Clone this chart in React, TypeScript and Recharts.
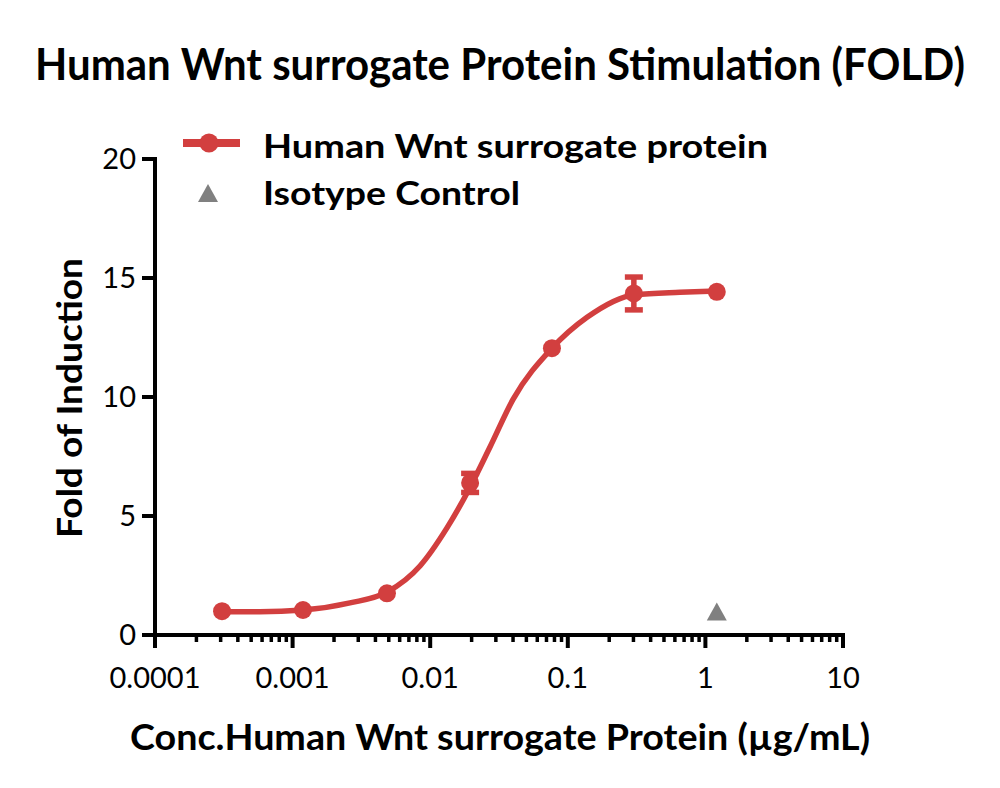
import React from 'react';
import { ComposedChart, XAxis, YAxis, Line, Scatter, ErrorBar } from 'recharts';

const RED = '#D23F3F';
const GREY = '#808080';
const FONT = 'Lato, "Open Sans", sans-serif';

// measured points (concentration µg/mL, fold of induction, error)
const conc = [0.000307, 0.00119, 0.00485, 0.0195, 0.0767, 0.302, 1.21];
const fold = [1.0, 1.05, 1.75, 6.39, 12.05, 14.35, 14.42];
const foldErr = [0, 0, 0, 0.4, 0, 0.69, 0];

// fitted curve
const curveX = [0.000307, 0.000579, 0.00119, 0.00261, 0.00485, 0.00843, 0.01324, 0.01945, 0.0272, 0.04, 0.0767, 0.138, 0.308, 0.653, 1.21];
const curveY = [0.98, 0.98, 1.05, 1.35, 1.8, 2.9, 4.5, 6.2, 7.9, 9.9, 12.05, 13.35, 14.3, 14.4, 14.45];

// isotype control
const isoX = [1.21];
const isoY = [0.95];

const yTicks = [0, 5, 10, 15, 20];
const xMajor = [0.0001, 0.001, 0.01, 0.1, 1, 10];
const xMajorLabels = ['0.0001', '0.001', '0.01', '0.1', '1', '10'];
const minorMult = [2, 3, 4, 5, 6, 7, 8, 9];

const xTicks: number[] = [];
xMajor.forEach((d, i) => {
  xTicks.push(d);
  if (i < xMajor.length - 1) minorMult.forEach((m) => xTicks.push(d * m));
});

const pointData = conc.map((x, i) => ({ x, y: fold[i], err: foldErr[i] || undefined }));
const curveData = curveX.map((x, i) => ({ x, y: curveY[i] }));
const isoData = isoX.map((x, i) => ({ x, y: isoY[i] }));

const majorIndex = (v: number) => xMajor.findIndex((m) => Math.abs(Math.log10(v) - Math.log10(m)) < 1e-6);

const XTick = (props: any) => {
  const { x, y, payload } = props;
  const idx = majorIndex(payload.value);
  const major = idx >= 0;
  return (
    <g>
      <line x1={x} x2={x} y1={y} y2={y + (major ? 13 : 7)} stroke="#000" strokeWidth={major ? 4 : 3.5} />
      {major && (
        <text x={x} y={y + 53} textAnchor="middle" fontFamily={FONT} fontSize={29} fill="#000">
          {xMajorLabels[idx]}
        </text>
      )}
    </g>
  );
};

const YTick = (props: any) => {
  const { x, y, payload } = props;
  return (
    <g>
      <line x1={x - 13} x2={x} y1={y} y2={y} stroke="#000" strokeWidth={4} />
      <text x={x - 19} y={y + 10} textAnchor="end" fontFamily={FONT} fontSize={29} fill="#000">
        {payload.value}
      </text>
    </g>
  );
};

const Dot = (props: any) => {
  const { cx, cy } = props;
  return <circle cx={cx} cy={cy} r={9} fill={RED} />;
};

const Tri = (props: any) => {
  const { cx, cy } = props;
  return <path d={`M${cx},${cy - 10} L${cx + 10},${cy + 8} L${cx - 10},${cy + 8} Z`} fill={GREY} />;
};

export default function App() {
  return (
    <div style={{ position: 'absolute', left: 0, top: 0, width: 1000, height: 788, background: '#fff' }}>
      <ComposedChart width={1000} height={788} margin={{ top: 159, right: 157, bottom: 93, left: 95 }}>
        <XAxis
          type="number"
          dataKey="x"
          scale="log"
          domain={[0.0001, 10]}
          ticks={xTicks}
          interval={0}
          allowDataOverflow
          height={60}
          tickSize={0}
          tickMargin={0}
          tickLine={false}
          tick={<XTick />}
          axisLine={{ stroke: '#000', strokeWidth: 4, strokeLinecap: 'square' }}
        />
        <YAxis
          type="number"
          dataKey="y"
          domain={[0, 20]}
          ticks={yTicks}
          interval={0}
          width={60}
          tickSize={0}
          tickMargin={0}
          tickLine={false}
          tick={<YTick />}
          axisLine={{ stroke: '#000', strokeWidth: 4, strokeLinecap: 'square' }}
        />
        <Line data={curveData} dataKey="y" type="monotone" stroke={RED} strokeWidth={5.5} dot={false} activeDot={false} isAnimationActive={false} />
        <Scatter data={pointData} dataKey="y" shape={<Dot />} isAnimationActive={false}>
          <ErrorBar dataKey="err" direction="y" width={9} strokeWidth={5.5} stroke={RED} isAnimationActive={false} />
        </Scatter>
        <Scatter data={isoData} dataKey="y" shape={<Tri />} isAnimationActive={false} />
      </ComposedChart>
      <svg width={1000} height={788} style={{ position: 'absolute', left: 0, top: 0, pointerEvents: 'none' }}>
        <text x={500} y={80} textAnchor="middle" fontFamily={FONT} fontWeight={700} fontSize={43} textLength={930} lengthAdjust="spacingAndGlyphs" fill="#000">
          Human Wnt surrogate Protein Stimulation (FOLD)
        </text>
        <line x1={183} x2={240} y1={143} y2={143} stroke={RED} strokeWidth={8} />
        <circle cx={209} cy={143} r={9.5} fill={RED} />
        <path d="M208,184 L218,202 L198,202 Z" fill={GREY} />
        <text x={263} y={158} fontFamily={FONT} fontWeight={700} fontSize={33} textLength={505} lengthAdjust="spacingAndGlyphs" fill="#000">
          Human Wnt surrogate protein
        </text>
        <text x={263} y={205} fontFamily={FONT} fontWeight={700} fontSize={33} textLength={257} lengthAdjust="spacingAndGlyphs" fill="#000">
          Isotype Control
        </text>
        <text x={500} y={750} textAnchor="middle" fontFamily={FONT} fontWeight={700} fontSize={36} textLength={740} lengthAdjust="spacingAndGlyphs" fill="#000">
          Conc.Human Wnt surrogate Protein (µg/mL)
        </text>
        <text transform="translate(82,398) rotate(-90)" x={0} y={0} textAnchor="middle" fontFamily={FONT} fontWeight={700} fontSize={35} textLength={280} lengthAdjust="spacingAndGlyphs" fill="#000">
          Fold of Induction
        </text>
      </svg>
    </div>
  );
}
